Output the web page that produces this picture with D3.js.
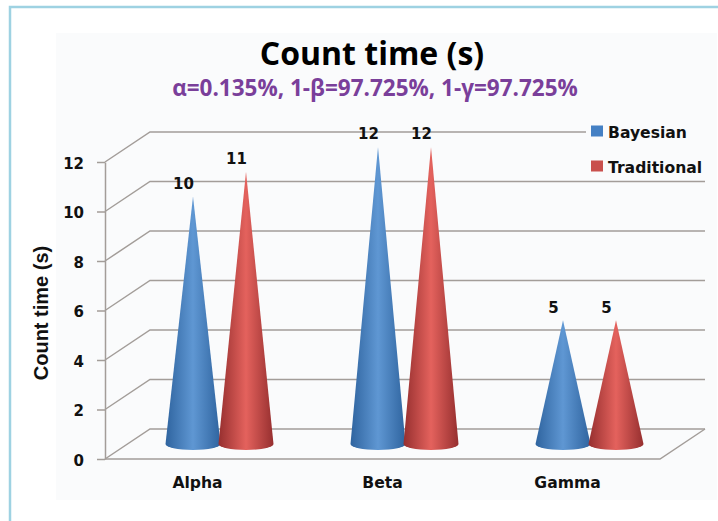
<!DOCTYPE html>
<html>
<head>
<meta charset="utf-8">
<script src="https://cdn.jsdelivr.net/npm/d3@7"></script>
<style>
  html, body { margin: 0; padding: 0; background: #fff; overflow: hidden; }
  svg { display: block; }
  text { font-family: "Open Sans", sans-serif; font-weight: 700; fill: #111; }
</style>
</head>
<body>
<script>
// chart data
let categories = ["Alpha", "Beta", "Gamma"];
let seriesNames = ["Bayesian", "Traditional"];
let bayesian = [10, 12, 5];
let traditional = [11, 12, 5];
let yTicks = [0, 2, 4, 6, 8, 10, 12];
let titleText = "Count time (s)";
let subtitleText = "α=0.135%, 1-β=97.725%, 1-γ=97.725%";
let yLabel = "Count time (s)";

let w = 718;
let h = 521;

// the front plane of the fake 3D box, and how far back the rear wall sits
let left = 105, right = 660, top_ = 162, bottom = 459;
let depthX = 45, depthY = 30;
let gridColor = "#a39d99";
let labelFont = '"DejaVu Sans", sans-serif';

let colors = {
  Bayesian: { dark: "#2f649f", light: "#5f97d3", swatch: "#4480c4" },
  Traditional: { dark: "#962f2f", light: "#e4625d", swatch: "#c9504d" }
};

let svg = d3.select("body").append("svg").attr("width", w).attr("height", h);

// frame and plot background
svg.append("rect").attr("x", 10).attr("y", 7).attr("width", w + 20).attr("height", h + 20)
  .style("fill", "#fff").style("stroke", "#9ed2e2").style("stroke-width", 2.5);
svg.append("rect").attr("x", 56).attr("y", 33).attr("width", 661).attr("height", 467)
  .style("fill", "#fafbfc");

let yScale = d3.scaleLinear().domain([0, 12]).range([bottom, top_]);
let xScale = d3.scaleBand().domain(categories).range([left, right]);

// cones stand halfway into the box
let coneShiftX = depthX / 2 - 0.5;
let coneShiftY = depthY / 2;
let coneHalf = 27.5, coneRy = 6;
let xInner = d3.scaleBand().domain(seriesNames).range([-53, 53]);

// gradients, dark on the edges and light down the middle
let defs = svg.append("defs");
seriesNames.forEach((s) => {
  let g = defs.append("linearGradient").attr("id", "grad" + s)
    .attr("x1", 0).attr("x2", 1).attr("y1", 0).attr("y2", 0);
  g.append("stop").attr("offset", "0%").attr("stop-color", colors[s].dark);
  g.append("stop").attr("offset", "50%").attr("stop-color", colors[s].light);
  g.append("stop").attr("offset", "100%").attr("stop-color", colors[s].dark);
});

// side wall lines and back wall gridlines
let grid = svg.append("g").style("fill", "none").style("stroke", gridColor).style("stroke-width", 1.5);
grid.selectAll(".grid")
  .data(yTicks)
  .enter()
  .append("path")
  .attr("class", "grid")
  .attr("d", (d) => {
    let y = yScale(d);
    return `M${left},${y}L${left + depthX},${y - depthY}L${right + depthX},${y - depthY}`;
  });
// floor front edge
grid.append("path")
  .attr("d", `M${left},${bottom}L${right},${bottom}L${right + depthX},${bottom - depthY}`);

// y axis
let yAxis = d3.axisLeft(yScale).tickValues(yTicks).tickSize(8).tickSizeOuter(0).tickPadding(13);
let yAxisGroup = svg.append("g").attr("transform", `translate(${left}, 0)`).call(yAxis);
yAxisGroup.selectAll("path, line").style("stroke", gridColor).style("stroke-width", 1.5);
yAxisGroup.selectAll("text").style("font-size", "15px").style("font-family", labelFont).attr("dy", "0.42em");

// x axis
let xAxis = d3.axisBottom(xScale).tickSize(0).tickPadding(18);
let xAxisGroup = svg.append("g").attr("transform", `translate(0, ${bottom})`).call(xAxis);
xAxisGroup.select(".domain").remove();
xAxisGroup.selectAll("text").style("font-size", "15.6px").style("font-family", labelFont);

// legend sits on top of the last gridline
svg.append("rect").attr("x", 586).attr("y", 120).attr("width", 130).attr("height", 56).style("fill", "#fafbfc");

// cones
function conePath(value) {
  let tip = yScale(value) - coneShiftY;
  let base = bottom - coneShiftY;
  return `M${-coneHalf},${base}L0,${tip}L${coneHalf},${base}A${coneHalf},${coneRy} 0 0 1 ${-coneHalf},${base}Z`;
}

let seriesData = [bayesian, traditional];
seriesNames.forEach((s, i) => {
  svg.append("g").selectAll(".cone")
    .data(seriesData[i])
    .enter()
    .append("path")
    .attr("class", "cone")
    .attr("d", (d) => conePath(d))
    .attr("transform", (d, j) => {
      let cx = xScale(categories[j]) + xScale.bandwidth() / 2 + coneShiftX + xInner(s) + xInner.bandwidth() / 2;
      return `translate(${cx}, 0)`;
    })
    .style("fill", `url(#grad${s})`);

  // value labels, up and to the left of the tips
  svg.append("g").selectAll(".value")
    .data(seriesData[i])
    .enter()
    .append("text")
    .attr("class", "value")
    .attr("x", (d, j) => xScale(categories[j]) + xScale.bandwidth() / 2 + coneShiftX + xInner(s) + xInner.bandwidth() / 2 - 9.5)
    .attr("y", (d) => yScale(d) - coneShiftY - 13)
    .attr("dy", "0.36em")
    .attr("text-anchor", "middle")
    .style("font-family", labelFont)
    .style("font-size", "15px")
    .text((d) => d);
});

// legend
let legendY = d3.scalePoint().domain(seriesNames).range([131, 166]);
let legend = svg.append("g");
legend.selectAll("rect")
  .data(seriesNames)
  .enter()
  .append("rect")
  .attr("x", 591)
  .attr("y", (d) => legendY(d) - 5.5)
  .attr("width", 12)
  .attr("height", 11)
  .style("fill", (d) => colors[d].swatch);
legend.selectAll("text")
  .data(seriesNames)
  .enter()
  .append("text")
  .attr("x", 608)
  .attr("y", (d) => legendY(d) + 1)
  .attr("dy", "0.36em")
  .style("font-family", labelFont)
  .style("font-size", "15.6px")
  .text((d) => d);

// titles
svg.append("text").attr("x", 372).attr("y", 65).attr("text-anchor", "middle")
  .style("font-size", "32px").style("fill", "#000").text(titleText);
svg.append("text").attr("x", 375).attr("y", 96).attr("text-anchor", "middle")
  .style("font-size", "22.5px").style("fill", "#7a3f9a").text(subtitleText);
svg.append("text")
  .attr("transform", "translate(48, 313) rotate(-90)")
  .attr("text-anchor", "middle")
  .style("font-family", '"Liberation Sans", sans-serif')
  .style("font-size", "20px")
  .text(yLabel);
</script>
</body>
</html>
